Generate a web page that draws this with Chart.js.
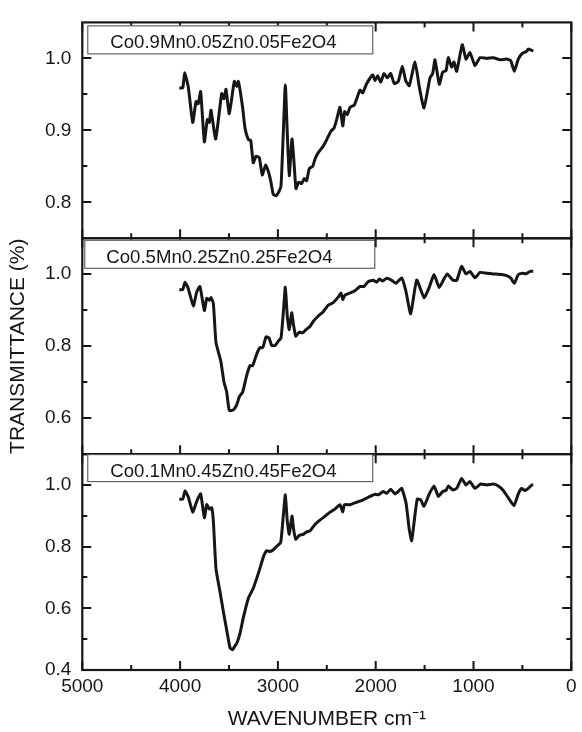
<!DOCTYPE html>
<html>
<head>
<meta charset="utf-8">
<script src="https://cdn.jsdelivr.net/npm/chart.js@4/dist/chart.umd.min.js"></script>
<style>
  html, body { margin: 0; padding: 0; background: #fff; }
  #wrap { width: 582px; height: 732px; }
</style>
</head>
<body>
<div id="wrap"><canvas id="ftirChart" width="582" height="732"></canvas></div>
<script>
// Sample names shown in the boxes, top to bottom
const SAMPLES = ['Co0.9Mn0.05Zn0.05Fe2O4', 'Co0.5Mn0.25Zn0.25Fe2O4', 'Co0.1Mn0.45Zn0.45Fe2O4'];

// Top panel (Co0.9)
const WN_TOP = [4008, 3973, 3953, 3916, 3871, 3837, 3814, 3790, 3752, 3722, 3701, 3684, 3636, 3575, 3551, 3531,
  3497, 3446, 3421, 3405, 3388, 3360, 3336, 3302, 3278, 3252, 3224, 3190, 3160, 3125, 3094, 3071, 3047, 3020,
  2989, 2968, 2945, 2924, 2904, 2884, 2856, 2835, 2815, 2787, 2757, 2730, 2706, 2679, 2644, 2621, 2587, 2542,
  2501, 2457, 2426, 2399, 2365, 2337, 2317, 2290, 2263, 2219, 2194, 2160, 2133, 2092, 2031, 2007, 1980, 1949,
  1915, 1881, 1847, 1810, 1769, 1728, 1693, 1657, 1598, 1554, 1506, 1445, 1417, 1394, 1350, 1315, 1281, 1258,
  1223, 1200, 1172, 1115, 1077, 1036, 985, 934, 865, 797, 729, 661, 620, 583, 542, 501, 456, 440, 389];
const T_TOP = [0.959, 0.959, 0.980, 0.960, 0.911, 0.940, 0.937, 0.954, 0.884, 0.915, 0.911, 0.928, 0.888, 0.951, 0.944, 0.957,
  0.923, 0.968, 0.961, 0.968, 0.957, 0.931, 0.903, 0.887, 0.886, 0.855, 0.864, 0.862, 0.838, 0.852, 0.841, 0.828, 0.811, 0.809,
  0.815, 0.823, 0.896, 0.963, 0.896, 0.837, 0.888, 0.855, 0.819, 0.828, 0.826, 0.833, 0.830, 0.847, 0.850, 0.860, 0.869, 0.877,
  0.887, 0.899, 0.903, 0.915, 0.932, 0.906, 0.926, 0.922, 0.932, 0.935, 0.944, 0.956, 0.952, 0.965, 0.977, 0.969, 0.976, 0.967,
  0.979, 0.973, 0.979, 0.965, 0.968, 0.989, 0.969, 0.962, 0.995, 0.960, 0.931, 0.973, 0.979, 0.998, 0.964, 0.981, 0.983, 1.001,
  0.988, 0.995, 0.982, 1.019, 0.999, 1.008, 0.990, 1.001, 1.000, 1.001, 0.998, 0.999, 0.997, 0.982, 0.999, 1.007, 1.010, 1.013, 1.010];

// Middle panel (Co0.5)
const WN_MID = [4008, 3973, 3950, 3916, 3865, 3830, 3797, 3752, 3728, 3701, 3684, 3660, 3633, 3585, 3551, 3524,
  3497, 3456, 3421, 3395, 3360, 3319, 3285, 3258, 3217, 3183, 3155, 3121, 3091, 3063, 3029, 2996, 2968, 2945,
  2924, 2904, 2884, 2859, 2843, 2818, 2781, 2747, 2713, 2672, 2638, 2587, 2536, 2485, 2434, 2382, 2355, 2337,
  2314, 2263, 2212, 2160, 2119, 2075, 2024, 1990, 1963, 1928, 1887, 1836, 1792, 1734, 1693, 1642, 1581, 1506,
  1452, 1404, 1350, 1302, 1268, 1213, 1172, 1121, 1077, 1036, 985, 934, 865, 797, 712, 661, 620, 583, 542, 497,
  463, 422, 389];
const T_MID = [0.957, 0.957, 0.978, 0.960, 0.912, 0.951, 0.966, 0.899, 0.933, 0.928, 0.935, 0.919, 0.810, 0.760, 0.700, 0.673,
  0.621, 0.623, 0.637, 0.659, 0.673, 0.719, 0.746, 0.746, 0.778, 0.796, 0.796, 0.826, 0.823, 0.802, 0.802, 0.814, 0.823, 0.892,
  0.964, 0.883, 0.846, 0.893, 0.864, 0.828, 0.839, 0.837, 0.846, 0.855, 0.869, 0.884, 0.896, 0.914, 0.921, 0.937, 0.948, 0.930,
  0.942, 0.948, 0.954, 0.966, 0.966, 0.980, 0.983, 0.978, 0.987, 0.981, 0.989, 0.983, 0.975, 0.990, 0.955, 0.890, 0.984, 0.935,
  0.964, 0.999, 0.963, 0.987, 1.001, 0.984, 0.983, 1.022, 1.001, 1.008, 0.990, 1.005, 1.003, 1.001, 0.999, 0.996, 0.990, 0.975, 0.999, 1.003,
  1.001, 1.008, 1.008];

// Bottom panel (Co0.1)
const WN_BOT = [4008, 3973, 3950, 3916, 3871, 3830, 3790, 3752, 3728, 3701, 3677, 3660, 3633, 3592, 3558, 3507,
  3490, 3462, 3440, 3421, 3388, 3354, 3302, 3252, 3190, 3149, 3115, 3081, 3047, 3006, 2971, 2945, 2924, 2904,
  2884, 2856, 2839, 2818, 2781, 2740, 2706, 2672, 2621, 2570, 2518, 2467, 2416, 2365, 2337, 2320, 2263, 2194,
  2127, 2058, 2007, 1973, 1922, 1887, 1847, 1803, 1769, 1734, 1690, 1657, 1632, 1608, 1575, 1540, 1506, 1452,
  1404, 1360, 1315, 1281, 1258, 1213, 1172, 1121, 1077, 1036, 985, 927, 865, 797, 746, 695, 644, 586, 542, 508,
  474, 440, 405, 389];
const T_BOT = [0.954, 0.954, 0.981, 0.961, 0.912, 0.947, 0.971, 0.894, 0.936, 0.922, 0.926, 0.883, 0.728, 0.654, 0.590, 0.500,
  0.472, 0.466, 0.478, 0.486, 0.518, 0.569, 0.633, 0.665, 0.723, 0.766, 0.787, 0.784, 0.790, 0.803, 0.814, 0.899, 0.968, 0.883,
  0.840, 0.899, 0.856, 0.824, 0.837, 0.840, 0.848, 0.851, 0.872, 0.886, 0.899, 0.912, 0.922, 0.936, 0.912, 0.936, 0.936, 0.944,
  0.952, 0.963, 0.970, 0.968, 0.979, 0.973, 0.986, 0.971, 0.979, 0.989, 0.942, 0.856, 0.819, 0.878, 0.954, 0.952, 0.931, 0.971,
  0.997, 0.963, 0.979, 0.982, 0.997, 0.984, 0.989, 1.021, 1.000, 1.011, 0.989, 1.003, 1.000, 1.003, 0.997, 0.982, 0.958, 0.933, 0.971, 0.989,
  0.982, 0.989, 1.000, 1.000];

// Axis ranges and tick labels
const X_TICKS = [5000, 4000, 3000, 2000, 1000, 0];
const Y_RANGE_TOP = [0.75, 1.05];
const Y_RANGE_MID = [0.5, 1.1];
const Y_RANGE_BOT = [0.4, 1.1];
const Y_TICKS_TOP = [0.8, 0.9, 1.0];
const Y_TICKS_MID = [0.6, 0.8, 1.0];
const Y_TICKS_BOT = [0.4, 0.6, 0.8, 1.0];

const FONT = "'Liberation Sans', Arial, Helvetica, sans-serif";
const INK = '#161616';

// panel layout: scale id, label box offsets relative to the panel
const PANELS = [
  { id: 'yTop', box: { dx: 5, dy: 3, w: 285, h: 28, tx: 28 } },
  { id: 'yMid', box: { dx: 2, dy: 1.5, w: 290, h: 28, tx: 24 } },
  { id: 'yBot', box: { dx: 5, dy: 0, w: 285, h: 27, tx: 28 } }
];

function toPoints(xs, ys) {
  return xs.map((x, i) => ({ x: x, y: ys[i] }));
}

function setTicks(values) {
  return scale => { scale.ticks = values.map(v => ({ value: v })); };
}

function minorTicks(major, range) {
  const step = major[1] - major[0];
  const out = [];
  major.forEach(v => out.push(v - step / 2));
  out.push(major[major.length - 1] + step / 2);
  return out.filter(v => v > range[0] + 1e-9 && v < range[1] - 1e-9);
}

function yAxis(range, ticks, weight, withTitle) {
  return {
    type: 'linear',
    position: 'left',
    stack: 'panels',
    stackWeight: 1,
    weight: weight,
    min: range[0],
    max: range[1],
    afterBuildTicks: setTicks(ticks),
    afterFit: scale => { scale.width = 82.3; },
    grid: { display: false, drawTicks: false },
    border: { display: false },
    ticks: {
      padding: 11,
      color: INK,
      font: { family: FONT, size: 19 },
      callback: v => Number(v).toFixed(1)
    },
    title: {
      display: withTitle,
      text: 'TRANSMITTANCE (%)',
      color: INK,
      font: { family: FONT, size: 21 },
      padding: { top: 6, bottom: 0 }
    }
  };
}

const yRanges = { yTop: Y_RANGE_TOP, yMid: Y_RANGE_MID, yBot: Y_RANGE_BOT };
const yTicks = { yTop: Y_TICKS_TOP, yMid: Y_TICKS_MID, yBot: Y_TICKS_BOT };

// frame, inward ticks and sample label boxes for each panel
const panelFrame = {
  id: 'panelFrame',
  afterDatasetsDraw(chart) {
    const ctx = chart.ctx;
    const xs = chart.scales.x;
    const left = chart.chartArea.left, right = chart.chartArea.right;
    const xMinor = minorTicks([0, 1000, 2000, 3000, 4000, 5000], [0, 5000]);
    ctx.save();
    ctx.strokeStyle = INK;
    ctx.lineCap = 'butt';

    PANELS.forEach((p, i) => {
      const ys = chart.scales[p.id];
      const top = ys.top, bottom = ys.bottom;
      const major = yTicks[p.id];
      const minor = minorTicks(major, yRanges[p.id]);

      ctx.lineWidth = 2;
      ctx.beginPath();
      major.forEach(v => {
        const y = Math.round(ys.getPixelForValue(v));
        ctx.moveTo(left, y); ctx.lineTo(left + 9, y);
        ctx.moveTo(right, y); ctx.lineTo(right - 9, y);
      });
      minor.forEach(v => {
        const y = Math.round(ys.getPixelForValue(v));
        ctx.moveTo(left, y); ctx.lineTo(left + 5, y);
        ctx.moveTo(right, y); ctx.lineTo(right - 5, y);
      });
      X_TICKS.forEach(v => {
        const x = xs.getPixelForValue(v);
        ctx.moveTo(x, bottom); ctx.lineTo(x, bottom - 9);
        ctx.moveTo(x, top); ctx.lineTo(x, top + 9);
      });
      xMinor.forEach(v => {
        const x = xs.getPixelForValue(v);
        ctx.moveTo(x, bottom); ctx.lineTo(x, bottom - 5);
        ctx.moveTo(x, top); ctx.lineTo(x, top + 5);
      });
      ctx.stroke();

      ctx.lineWidth = 2.2;
      ctx.strokeRect(left, top, right - left, bottom - top);

      // sample label box
      const b = p.box;
      const bx = left + b.dx, by = top + b.dy;
      ctx.fillStyle = '#fff';
      ctx.fillRect(bx, by, b.w, b.h);
      ctx.lineWidth = 1;
      ctx.strokeStyle = '#444';
      ctx.strokeRect(bx + 0.5, by + 0.5, b.w, b.h);
      ctx.strokeStyle = INK;
      ctx.fillStyle = INK;
      ctx.font = '18.6px ' + FONT;
      ctx.textAlign = 'left';
      ctx.textBaseline = 'alphabetic';
      ctx.fillText(SAMPLES[i], left + b.tx, by + 23);
    });
    ctx.restore();
  }
};

function lineSet(label, pts, axis) {
  return {
    label: label,
    data: pts,
    yAxisID: axis,
    borderColor: INK,
    borderWidth: 3,
    pointRadius: 0,
    tension: 0.15,
    fill: false
  };
}

new Chart(document.getElementById('ftirChart'), {
  type: 'line',
  data: {
    datasets: [
      lineSet(SAMPLES[0], toPoints(WN_TOP, T_TOP), 'yTop'),
      lineSet(SAMPLES[1], toPoints(WN_MID, T_MID), 'yMid'),
      lineSet(SAMPLES[2], toPoints(WN_BOT, T_BOT), 'yBot')
    ]
  },
  options: {
    responsive: false,
    animation: false,
    layout: { padding: { left: 0, right: 10.7, top: 12, bottom: 0 } },
    plugins: {
      legend: { display: false },
      tooltip: { enabled: false }
    },
    scales: {
      x: {
        type: 'linear',
        position: 'bottom',
        reverse: true,
        min: 0,
        max: 5000,
        afterBuildTicks: setTicks(X_TICKS),
        afterFit: scale => { scale.height = 62; },
        grid: { display: false, drawTicks: false },
        border: { display: false },
        ticks: {
          padding: 5,
          color: INK,
          font: { family: FONT, size: 19 },
          callback: v => String(v)
        },
        title: {
          display: true,
          text: 'WAVENUMBER cm\u207B\u00B9',
          color: INK,
          font: { family: FONT, size: 21 },
          padding: { top: 0, bottom: 0 }
        }
      },
      yTop: yAxis(Y_RANGE_TOP, Y_TICKS_TOP, 3, false),
      yMid: yAxis(Y_RANGE_MID, Y_TICKS_MID, 2, true),
      yBot: yAxis(Y_RANGE_BOT, Y_TICKS_BOT, 1, false)
    }
  },
  plugins: [panelFrame]
});
</script>
</body>
</html>
